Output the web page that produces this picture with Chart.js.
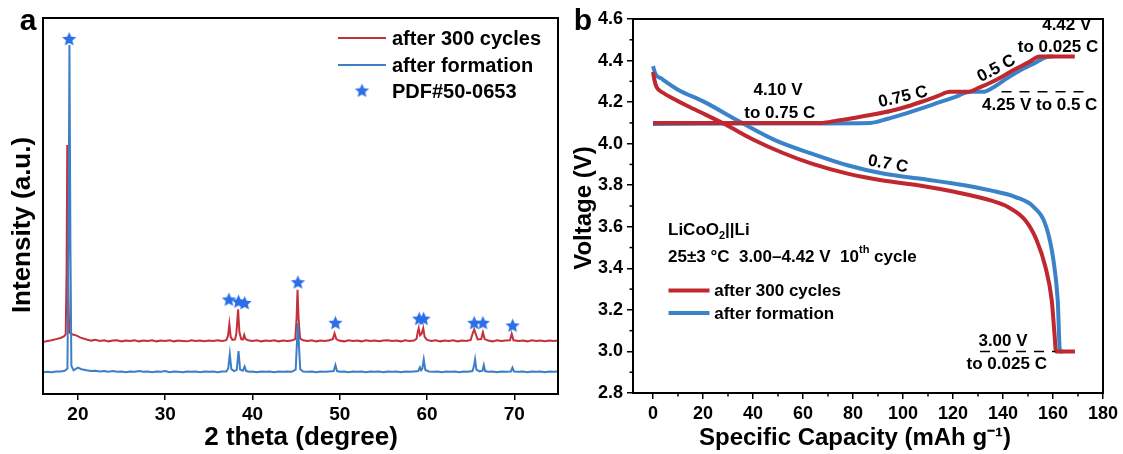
<!DOCTYPE html>
<html>
<head>
<meta charset="utf-8">
<script src="https://cdn.jsdelivr.net/npm/chart.js@4.4.1/dist/chart.umd.min.js"></script>
<style>
  html,body{margin:0;padding:0;background:#fff;}
  #wrap{position:relative;width:1123px;height:454px;}
  canvas{position:absolute;top:0;}
  #cA{left:0;}
  #cB{left:570px;}
</style>
</head>
<body>
<div id="wrap">
  <canvas id="cA" width="570" height="454"></canvas>
  <canvas id="cB" width="553" height="454"></canvas>
</div>
<script>
/* ── DATA: panel a (XRD, intensity in arbitrary units 0-100) ── */
const xrdTicks = [20, 30, 40, 50, 60, 70];
const xrdRed = [
  [16,13.8],[16.5,14.1],[17,14.3],[17.5,14.6],[18,14.9],[18.4,15.3],[18.6,15.9],[18.7,32],[18.78,66.2],[18.88,30],
  [19.0,16.4],[19.3,15.9],[19.8,15.6],[20.3,15.0],[21,14.5],[21.5,14.2],[22,14.4],[22.5,14.1],[23,14.3],[23.5,14.0],
  [24,14.2],[24.5,14.3],[25,14.0],[25.5,14.2],[26,14.1],[26.5,14.3],[27,14.0],[27.5,14.2],[28,14.1],[28.5,14.3],
  [29,14.0],[29.5,14.2],[30,14.1],[30.5,14.3],[31,14.0],[31.5,14.2],[32,14.1],[32.5,14.0],[33,14.3],[33.5,14.1],
  [34,14.2],[34.5,14.0],[35,14.2],[35.5,14.1],[36,14.3],[36.5,14.1],[37.0,14.3],[37.2,15.5],[37.35,18.6],[37.5,15.2],
  [37.7,14.4],[38.0,14.5],[38.15,16.0],[38.35,22.5],[38.5,16.5],[38.7,14.6],[38.9,14.5],[39.05,15.7],[39.2,14.6],[39.5,14.3],
  [40,14.1],[40.5,14.3],[41,14.0],[41.5,14.2],[42,14.1],[42.5,14.3],[43,14.0],[43.5,14.2],[44,14.1],[44.5,14.2],
  [44.9,14.6],[45.05,20.0],[45.16,27.7],[45.28,20.0],[45.45,14.8],[45.8,14.3],[46.3,14.1],[46.8,14.3],[47.3,14.0],[47.8,14.2],
  [48.3,14.1],[48.8,14.3],[49.2,14.6],[49.4,16.1],[49.6,14.6],[49.9,14.2],[50.5,14.0],[51,14.3],[51.5,14.1],[52,14.2],
  [52.5,14.0],[53,14.3],[53.5,14.1],[54,14.2],[54.5,14.0],[55,14.2],[55.5,14.3],[56,14.1],[56.5,14.2],[57,14.0],
  [57.5,14.3],[58,14.1],[58.5,14.2],[58.8,14.7],[58.92,16.4],[59.04,17.5],[59.2,15.6],[59.35,15.9],[59.56,17.5],[59.72,15.2],
  [60,14.4],[60.5,14.1],[61,14.3],[61.5,14.0],[62,14.2],[62.5,14.1],[63,14.3],[63.5,14.0],[64,14.2],[64.5,14.1],
  [65.0,14.4],[65.25,16.3],[65.4,17.2],[65.55,16.1],[65.8,14.5],[66.2,14.6],[66.4,16.4],[66.6,14.6],[67,14.2],[67.5,14.0],
  [68,14.3],[68.5,14.1],[69,14.2],[69.5,14.3],[69.7,16.0],[69.9,14.3],[70.5,14.1],[71,14.2],[71.5,14.0],[72,14.3],
  [72.5,14.1],[73,14.2],[73.5,14.0],[74,14.2],[74.5,14.1],[75,14.2]
];
const xrdBlue = [
  [16,5.8],[16.5,5.9],[17,5.8],[17.5,6.0],[18,6.0],[18.5,6.2],[18.8,6.8],[18.92,40],[19.03,92.8],[19.14,40],
  [19.25,7.5],[19.5,6.3],[20,7.0],[20.4,6.6],[21,6.3],[21.5,6.1],[22,6.2],[22.5,6.0],[23,6.1],[23.5,5.9],
  [24,6.1],[24.5,5.9],[25,6.0],[25.5,5.8],[26,6.0],[26.5,5.9],[27,6.1],[27.5,5.9],[28,6.0],[28.5,5.8],
  [29,6.0],[29.5,5.9],[30,6.1],[30.5,5.8],[31,6.0],[31.5,5.9],[32,5.8],[32.5,6.0],[33,5.9],[33.5,6.0],
  [34,5.8],[34.5,6.0],[35,5.9],[35.5,6.0],[36,5.8],[36.5,6.0],[37.0,6.0],[37.22,6.8],[37.4,10.6],[37.58,6.6],
  [37.9,6.1],[38.2,6.4],[38.4,11.4],[38.58,6.5],[38.9,6.2],[39.1,7.3],[39.28,6.1],[39.6,5.9],[40,6.0],[40.5,5.8],
  [41,6.0],[41.5,5.9],[42,6.0],[42.5,5.8],[43,6.0],[43.5,5.9],[44,6.0],[44.5,5.9],[44.95,6.5],[45.08,13.0],
  [45.2,18.8],[45.32,13.0],[45.47,6.6],[45.8,6.0],[46.3,5.9],[46.8,6.0],[47.3,5.8],[47.8,6.0],[48.3,5.9],[48.8,6.0],
  [49.3,6.1],[49.5,7.7],[49.68,6.1],[50,5.9],[50.5,6.0],[51,5.8],[51.5,6.0],[52,5.9],[52.5,6.0],[53,5.8],
  [53.5,6.0],[54,5.9],[54.5,6.0],[55,5.8],[55.5,6.0],[56,5.9],[56.5,6.0],[57,5.8],[57.5,6.0],[58,5.9],
  [58.5,6.0],[59.0,6.1],[59.18,7.1],[59.32,6.3],[59.45,6.7],[59.62,9.2],[59.8,6.4],[60.2,6.0],[60.7,5.9],[61.2,6.0],
  [61.7,5.8],[62.2,6.0],[62.7,5.9],[63.2,6.0],[63.7,5.8],[64.2,6.0],[64.7,5.9],[65.2,6.1],[65.38,7.5],[65.5,9.2],
  [65.65,6.5],[66.0,6.0],[66.35,6.2],[66.5,7.7],[66.65,6.1],[67,5.9],[67.5,6.0],[68,5.8],[68.5,6.0],[69,5.9],
  [69.6,6.0],[69.78,7.0],[69.95,6.0],[70.5,5.9],[71,6.0],[71.5,5.8],[72,6.0],[72.5,5.9],[73,6.0],[73.5,5.8],
  [74,6.0],[74.5,5.9],[75,6.0]
];
const pdfStars = [
  [19.0,94.3],[37.3,25.0],[38.4,24.5],[39.1,24.1],[45.2,29.6],[49.5,18.8],
  [59.1,19.9],[59.6,19.9],[65.4,18.8],[66.4,18.8],[69.8,18.1]
];

/* ── DATA: panel b (voltage profiles) ── */
const capTicks = [0, 20, 40, 60, 80, 100, 120, 140, 160, 180];
const capMinor = [10, 30, 50, 70, 90, 110, 130, 150, 170];
const voltTicks = [2.8, 3.0, 3.2, 3.4, 3.6, 3.8, 4.0, 4.2, 4.4, 4.6];
const voltMinor = [2.9, 3.1, 3.3, 3.5, 3.7, 3.9, 4.1, 4.3, 4.5];
const redCharge = [
  [0,4.10],[30,4.10],[67,4.10],[74,4.112],[81,4.125],[88,4.14],[95,4.157],[102,4.18],[108,4.204],
  [114,4.23],[118.7,4.25],[126.5,4.25],[130,4.268],[134.7,4.292],[140,4.325],[144,4.353],[150,4.39],[154.7,4.42],[168.7,4.42]
];
const blueCharge = [
  [0,4.095],[40,4.097],[87,4.10],[94,4.12],[101,4.145],[108,4.172],[114.7,4.2],[121,4.225],[126.7,4.25],
  [132,4.25],[136,4.27],[141.4,4.313],[148,4.36],[153,4.39],[157.4,4.417],[160,4.42]
];
const redDischarge = [
  [0,4.345],[0.5,4.31],[1.4,4.273],[4,4.245],[8,4.217],[14,4.18],[21,4.14],[29,4.092],[40,4.02],[52,3.955],
  [63.5,3.904],[77.8,3.856],[92,3.823],[106,3.8],[121,3.767],[135,3.727],[142,3.695],[149,3.63],[153.5,3.534],
  [157,3.405],[159.5,3.245],[160.6,3.084],[161.2,3.0],[168.8,3.0]
];
const blueDischarge = [
  [0,4.373],[1,4.335],[3.3,4.314],[10,4.26],[20.5,4.201],[34.8,4.105],[49,4.016],[63.5,3.952],[77.8,3.896],
  [92,3.856],[106.4,3.832],[120.8,3.807],[135,3.775],[145,3.743],[152.3,3.695],[157.3,3.6],[160.2,3.437],
  [161.9,3.245],[162.8,3.0],[164,3.0]
];
const cv425 = [[139.4,4.25],[173.4,4.25]];
const cv300 = [[130.8,3.0],[160.9,3.0]];

const RED = '#c4303c', BLUE = '#3d7fc6', STAR = '#2a6ee8';
const RED_B = '#c0282f', BLUE_B = '#3b83c8';
const FONT = "'Liberation Sans', Arial, sans-serif";

const pts = a => a.map(p => ({x: p[0], y: p[1]}));

function makeStar(r, color){
  const s = Math.ceil(r*2 + 2);
  const c = document.createElement('canvas');
  c.width = c.height = s;
  const g = c.getContext('2d');
  g.fillStyle = color;
  g.beginPath();
  for (let i = 0; i < 10; i++){
    const a = -Math.PI/2 + i*Math.PI/5;
    const rr = i % 2 ? r*0.45 : r;
    g.lineTo(s/2 + rr*Math.cos(a), s/2 + rr*Math.sin(a));
  }
  g.closePath(); g.fill();
  return c;
}
const starImg = makeStar(7.5, STAR);

/* rich text: parts = [[text, 'sub'|'sup'|'']] */
function richText(ctx, x, y, parts, size){
  let cx = x;
  parts.forEach(([t, k]) => {
    const fs = k ? Math.round(size*0.65) : size;
    ctx.font = `bold ${fs}px ${FONT}`;
    const dy = k === 'sub' ? size*0.3 : k === 'sup' ? -size*0.4 : 0;
    ctx.fillText(t, cx, y + dy);
    cx += ctx.measureText(t).width;
  });
}

function frame(chart){
  const {ctx, chartArea: a} = chart;
  ctx.save();
  ctx.strokeStyle = '#000'; ctx.lineWidth = 2;
  ctx.strokeRect(a.left, a.top, a.right - a.left, a.bottom - a.top);
  ctx.restore();
}

/* ── PANEL A ── */
const panelA = {
  id: 'panelA',
  afterDatasetsDraw(chart){
    frame(chart);
    const ctx = chart.ctx;
    ctx.save();
    ctx.fillStyle = '#000';
    ctx.textBaseline = 'middle';
    // legend
    ctx.lineWidth = 2;
    ctx.strokeStyle = RED; ctx.beginPath(); ctx.moveTo(338, 38); ctx.lineTo(386, 38); ctx.stroke();
    ctx.strokeStyle = BLUE; ctx.beginPath(); ctx.moveTo(338, 65); ctx.lineTo(386, 65); ctx.stroke();
    ctx.drawImage(starImg, 362 - starImg.width/2, 91 - starImg.height/2);
    ctx.font = `bold 20px ${FONT}`;
    ctx.fillText('after 300 cycles', 392, 39);
    ctx.fillText('after formation', 392, 66);
    ctx.fillText('PDF#50-0653', 392, 92);
    // titles
    ctx.textAlign = 'center';
    ctx.font = `bold 26px ${FONT}`;
    ctx.fillText('2 theta (degree)', 301, 438);
    ctx.save();
    ctx.translate(23, 225); ctx.rotate(-Math.PI/2);
    ctx.fillText('Intensity (a.u.)', 0, 0);
    ctx.restore();
    ctx.font = `bold 30px ${FONT}`;
    ctx.fillText('a', 28, 22);
    ctx.restore();
  }
};

new Chart(document.getElementById('cA'), {
  type: 'line',
  data: {
    datasets: [
      {data: pts(pdfStars), showLine: false, pointStyle: starImg, pointRadius: 7, order: 0},
      {data: pts(xrdBlue), borderColor: BLUE, borderWidth: 2, pointRadius: 0, tension: 0, order: 1},
      {data: pts(xrdRed), borderColor: RED, borderWidth: 2, pointRadius: 0, tension: 0, order: 2}
    ]
  },
  options: {
    responsive: false, animation: false,
    layout: {padding: {top: 18, right: 12, left: 0, bottom: 0}},
    plugins: {legend: {display: false}, tooltip: {enabled: false}},
    scales: {
      x: {
        type: 'linear', min: 16, max: 75,
        afterBuildTicks: s => { s.ticks = xrdTicks.map(v => ({value: v})); },
        afterFit: s => { s.height = 60; },
        border: {display: false},
        grid: {drawOnChartArea: false, drawTicks: true, tickLength: 6, color: '#000', lineWidth: 1.5},
        ticks: {color: '#000', font: {family: FONT, size: 19, weight: 'bold'}, padding: 3, maxRotation: 0}
      },
      y: {
        min: 0, max: 100,
        afterFit: s => { s.width = 43; },
        border: {display: false},
        grid: {display: false},
        ticks: {display: false}
      }
    }
  },
  plugins: [panelA]
});

/* ── PANEL B ── */
const capNotes = [
  {t: '4.10 V', x: 50, y: 4.257},
  {t: 'to 0.75 C', x: 50.7, y: 4.148},
  {t: '0.75 C', x: 100, y: 4.224, rot: -13},
  {t: '0.5 C', x: 137.4, y: 4.361, rot: -28},
  {t: '4.42 V', x: 165.5, y: 4.57},
  {t: 'to 0.025 C', x: 162, y: 4.462},
  {t: '4.25 V to 0.5 C', x: 154.7, y: 4.185},
  {t: '0.7 C', x: 94, y: 3.901, rot: 10},
  {t: '3.00 V', x: 140, y: 3.05},
  {t: 'to 0.025 C', x: 141.5, y: 2.94}
];

const panelB = {
  id: 'panelB',
  afterDatasetsDraw(chart){
    frame(chart);
    const {ctx, scales: {x, y}} = chart;
    ctx.save();
    // minor ticks
    ctx.strokeStyle = '#000'; ctx.lineWidth = 1.5;
    capMinor.forEach(v => {
      const px = x.getPixelForValue(v);
      ctx.beginPath(); ctx.moveTo(px, y.bottom); ctx.lineTo(px, y.bottom + 3.5); ctx.stroke();
    });
    voltMinor.forEach(v => {
      const py = y.getPixelForValue(v);
      ctx.beginPath(); ctx.moveTo(x.left, py); ctx.lineTo(x.left - 3.5, py); ctx.stroke();
    });
    ctx.fillStyle = '#000';
    ctx.textAlign = 'center'; ctx.textBaseline = 'middle';
    ctx.font = `bold 17px ${FONT}`;
    capNotes.forEach(n => {
      ctx.save();
      ctx.translate(x.getPixelForValue(n.x), y.getPixelForValue(n.y));
      if (n.rot) ctx.rotate(n.rot*Math.PI/180);
      ctx.fillText(n.t, 0, 0);
      ctx.restore();
    });
    // condition text
    ctx.textAlign = 'left';
    const lx = x.getPixelForValue(6);
    richText(ctx, lx, y.getPixelForValue(3.582), [['LiCoO', ''], ['2', 'sub'], ['||Li', '']], 17);
    richText(ctx, lx, y.getPixelForValue(3.454), [['25±3 °C  3.00–4.42 V  10', ''], ['th', 'sup'], [' cycle', '']], 17);
    // legend
    ctx.lineWidth = 4;
    [[RED_B, 3.293, 'after 300 cycles'], [BLUE_B, 3.185, 'after formation']].forEach(([c, v, t]) => {
      const py = y.getPixelForValue(v);
      ctx.strokeStyle = c;
      ctx.beginPath(); ctx.moveTo(x.getPixelForValue(6.2), py); ctx.lineTo(x.getPixelForValue(22.6), py); ctx.stroke();
      ctx.font = `bold 17px ${FONT}`;
      ctx.fillText(t, x.getPixelForValue(24.5), py + 1);
    });
    // titles
    ctx.textAlign = 'center';
    ctx.font = `bold 24px ${FONT}`;
    ctx.fillText('Specific Capacity (mAh g⁻¹)', 285, 438);
    ctx.save();
    ctx.translate(14, 208); ctx.rotate(-Math.PI/2);
    ctx.fillText('Voltage (V)', 0, 0);
    ctx.restore();
    ctx.font = `bold 30px ${FONT}`;
    ctx.fillText('b', 13, 22);
    ctx.restore();
  }
};

const line = (d, c, o) => ({data: pts(d), borderColor: c, borderWidth: 4, pointRadius: 0,
  cubicInterpolationMode: 'monotone', order: o});

new Chart(document.getElementById('cB'), {
  type: 'line',
  data: {
    datasets: [
      line(redCharge, RED_B, 1),
      line(redDischarge, RED_B, 1),
      line(blueCharge, BLUE_B, 2),
      line(blueDischarge, BLUE_B, 2),
      {data: pts(cv425), borderColor: '#000', borderWidth: 1.5, borderDash: [10, 8], pointRadius: 0, order: 0},
      {data: pts(cv300), borderColor: '#000', borderWidth: 1.5, borderDash: [10, 8], pointRadius: 0, order: 0}
    ]
  },
  options: {
    responsive: false, animation: false,
    layout: {padding: {top: 19, right: 20, left: 0, bottom: 0}},
    plugins: {legend: {display: false}, tooltip: {enabled: false}},
    scales: {
      x: {
        type: 'linear', min: -8, max: 180,
        afterBuildTicks: s => { s.ticks = capTicks.map(v => ({value: v})); },
        afterFit: s => { s.height = 61; },
        border: {display: false},
        grid: {drawOnChartArea: false, drawTicks: true, tickLength: 6, color: '#000', lineWidth: 1.5},
        ticks: {color: '#000', font: {family: FONT, size: 18, weight: 'bold'}, padding: 4, maxRotation: 0}
      },
      y: {
        min: 2.8, max: 4.6,
        afterBuildTicks: s => { s.ticks = voltTicks.map(v => ({value: v})); },
        afterFit: s => { s.width = 63; },
        border: {display: false},
        grid: {drawOnChartArea: false, drawTicks: true, tickLength: 6, color: '#000', lineWidth: 1.5},
        ticks: {color: '#000', font: {family: FONT, size: 18, weight: 'bold'}, padding: 4,
          callback: v => v.toFixed(1)}
      }
    }
  },
  plugins: [panelB]
});
</script>
</body>
</html>
